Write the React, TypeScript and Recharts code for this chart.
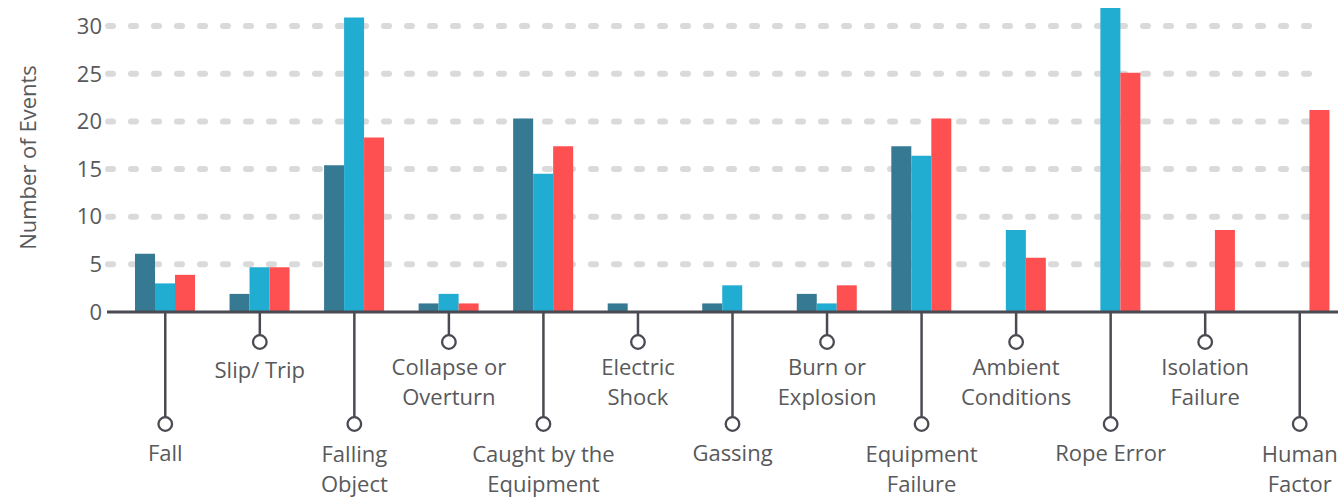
import React from 'react';
import { BarChart, Bar, CartesianGrid, XAxis, YAxis } from 'recharts';

const categories = [
  'Fall',
  'Slip/ Trip',
  'Falling\nObject',
  'Collapse or\nOverturn',
  'Caught by the\nEquipment',
  'Electric\nShock',
  'Gassing',
  'Burn or\nExplosion',
  'Equipment\nFailure',
  'Ambient\nConditions',
  'Rope Error',
  'Isolation\nFailure',
  'Human\nFactor',
];

const seriesA = [6.1, 1.9, 15.4, 0.9, 20.3, 0.9, 0.9, 1.9, 17.4, 0, 0, 0, 0];
const seriesB = [3.0, 4.7, 30.9, 1.9, 14.5, 0, 2.8, 0.9, 16.4, 8.6, 31.9, 0, 0];
const seriesC = [3.9, 4.7, 18.3, 0.9, 17.4, 0, 0, 2.8, 20.3, 5.7, 25.1, 8.6, 21.2];

const yTicks = [0, 5, 10, 15, 20, 25, 30];

const data = categories.map((name, i) => ({
  name,
  a: seriesA[i],
  b: seriesB[i],
  c: seriesC[i],
}));

const FONT = '"Open Sans", sans-serif';
const TEXT = '#58595B';
const INK = '#4A4A52';

const CategoryTick = (props: any) => {
  const { x, y, payload, index } = props;
  const long = index % 2 === 0;
  const lines = String(payload.value).split('\n');
  const cy = long ? y + 112 : y + 30;
  let firstY;
  if (long) firstY = lines.length > 1 ? y + 141 : y + 140;
  else firstY = lines.length > 1 ? y + 54 : y + 57;
  return (
    <g>
      <line x1={x} y1={y} x2={x} y2={cy - 7} stroke={INK} strokeWidth={2.5} />
      <circle cx={x} cy={cy} r={6.8} fill="#fff" stroke={INK} strokeWidth={2.3} />
      <text
        x={x}
        textAnchor="middle"
        dominantBaseline="central"
        fill={TEXT}
        fontFamily={FONT}
        fontSize={22}
      >
        {lines.map((l, i) => (
          <tspan key={i} x={x} y={firstY + i * 30}>
            {l}
          </tspan>
        ))}
      </text>
    </g>
  );
};

const YLabel = (props: any) => {
  const { viewBox } = props;
  const cx = 27;
  const cy = viewBox.y + viewBox.height / 2 - 2;
  return (
    <text
      x={cx}
      y={cy}
      transform={`rotate(-90, ${cx}, ${cy})`}
      textAnchor="middle"
      dominantBaseline="central"
      fill={TEXT}
      fontFamily={FONT}
      fontSize={22}
    >
      Number of Events
    </text>
  );
};

const GridLine = (props: any) => {
  const { x1, x2, y1, y2 } = props;
  // skip the baseline (axis) and the top edge of the plot
  if (y1 > 300 || y1 < 15) return <g />;
  return (
    <line
      x1={x1 + 1}
      x2={x2 - 30}
      y1={y1}
      y2={y2}
      stroke="#DADADA"
      strokeWidth={6}
      strokeDasharray="5 18"
      strokeLinecap="round"
    />
  );
};

export default function App() {
  return (
    <div
      style={{
        position: 'absolute',
        left: 0,
        top: 0,
        width: 1338,
        height: 499,
        overflow: 'hidden',
        background: '#fff',
      }}
    >
      <BarChart
        width={1347}
        height={499}
        data={data}
        margin={{ top: 7, right: 0, bottom: 0, left: 0 }}
        barSize={20}
        barGap={0}
      >
        <CartesianGrid vertical={false} horizontal={GridLine} />
        <XAxis
          dataKey="name"
          height={187}
          interval={0}
          padding={{ left: 11, right: 0 }}
          tickLine={false}
          tickSize={0}
          tickMargin={0}
          axisLine={{ stroke: INK, strokeWidth: 3 }}
          tick={CategoryTick}
        />
        <YAxis
          width={107}
          domain={[0, 32]}
          ticks={yTicks}
          axisLine={false}
          tickLine={false}
          tickSize={0}
          tickMargin={5}
          tick={{ fill: TEXT, fontFamily: FONT, fontSize: 22 }}
          label={<YLabel />}
        />
        <Bar dataKey="a" fill="#357A92" isAnimationActive={false} />
        <Bar dataKey="b" fill="#21ADD1" isAnimationActive={false} />
        <Bar dataKey="c" fill="#FE5050" isAnimationActive={false} />
      </BarChart>
    </div>
  );
}
